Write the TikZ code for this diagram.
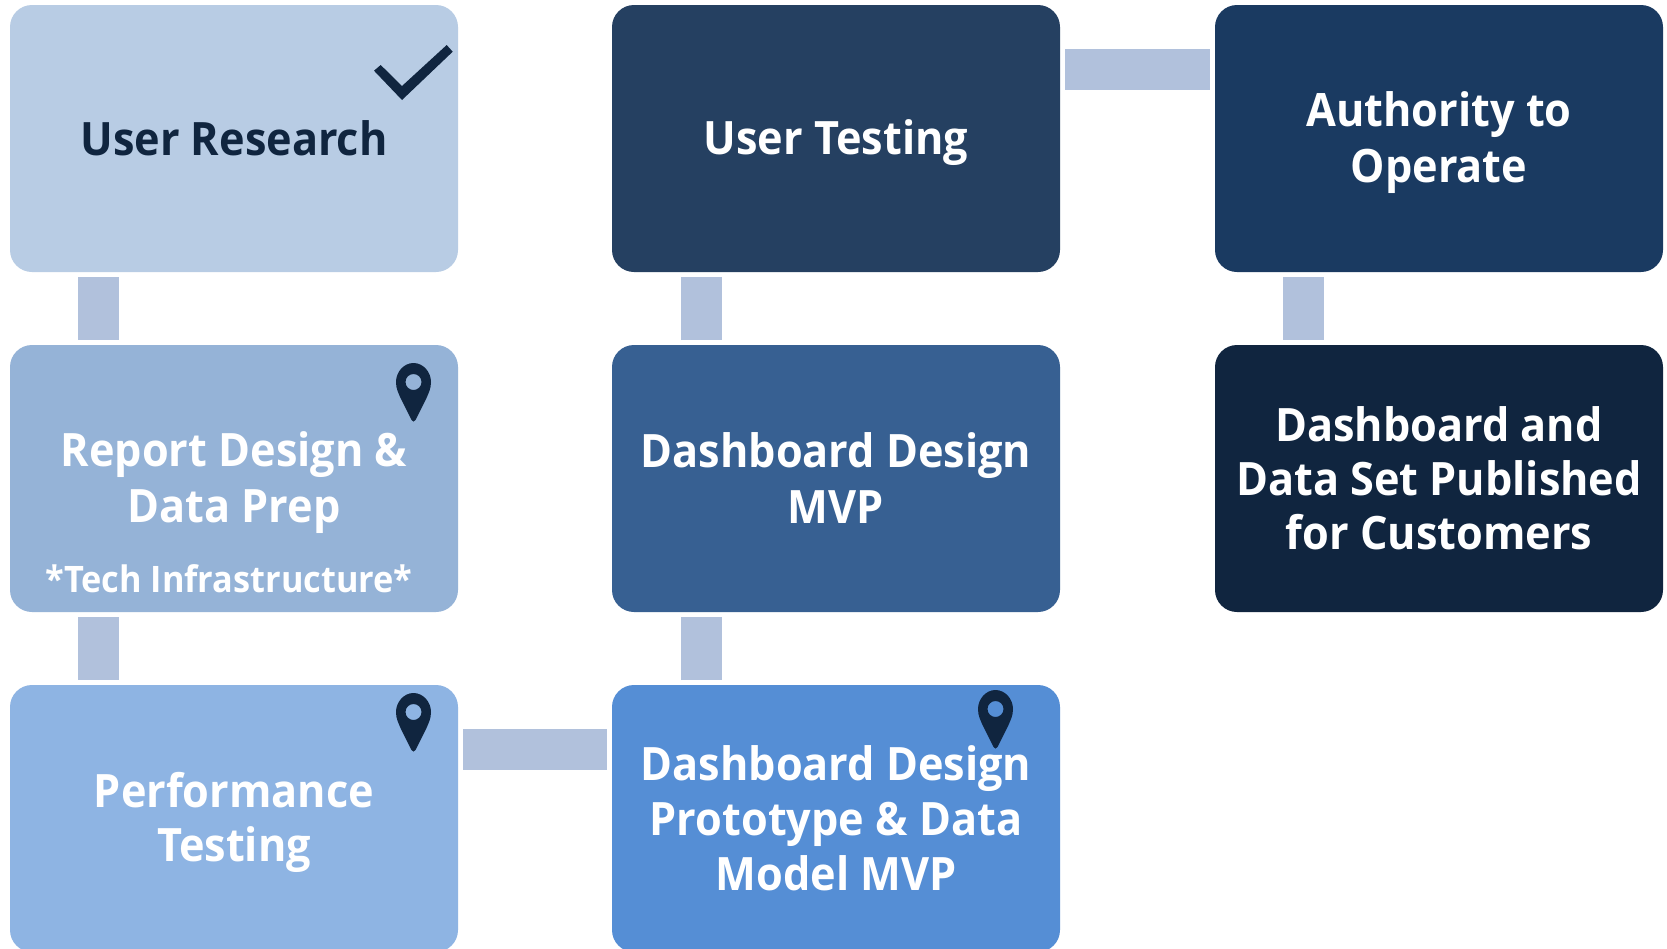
\documentclass[tikz,border=0pt]{standalone}
\usepackage{fontspec}
\setmainfont{Open Sans}[FakeStretch=0.94]
\definecolor{cA}{HTML}{B8CCE4}
\definecolor{cB}{HTML}{95B3D7}
\definecolor{cC}{HTML}{8EB4E3}
\definecolor{cD}{HTML}{558ED5}
\definecolor{cE}{HTML}{254061}
\definecolor{cF}{HTML}{376092}
\definecolor{cG}{HTML}{1A3A61}
\definecolor{cH}{HTML}{10253F}
\definecolor{cLink}{HTML}{B1C1DC}
\newcommand{\st}{\rule[-9pt]{0pt}{52pt}}
\tikzset{
  box/.style={rounded corners=22pt,minimum width=448pt,minimum height=267pt,inner sep=0pt,outer sep=0pt,
    align=center,text=white,font=\fontsize{46}{54}\selectfont\bfseries},
  linkv/.style={draw=cLink,line width=41pt},
  linkh/.style={draw=cLink,line width=41pt},
  iconink/.style={fill=cH,draw=none},
  pin/.pic={\path[iconink,even odd rule]
    (-17.5,0) .. controls (-17.5,-10) and (-9.7,-19) .. (0,-19)
    .. controls (9.7,-19) and (17.5,-10) .. (17.5,0)
    .. controls (17.5,7) and (15,11) .. (13,16)
    -- (2,38) .. controls (1,40) and (-1,40) .. (-2,38)
    -- (-13,16) .. controls (-15,11) and (-17.5,7) .. (-17.5,0) -- cycle
    (0,0) circle[radius=8pt];}
}
\begin{document}
\begin{tikzpicture}[x=1pt,y=-1pt]
\useasboundingbox[fill=white] (0,0) rectangle (1667,948);
\begin{scope}
\clip (0,0) rectangle (1667,948);
\node[box,fill=cA,text=cH] (ur) at (234,138.5) {\st User Research};
\node[box,fill=cB] (rd) at (234,478.5) {\st Report Design \&\\\st Data Prep};
\node[box,fill=cC] (pt) at (234,818.5) {\st Performance\\\st Testing};
\node[box,fill=cE] (ut) at (836,138.5) {\st User Testing};
\node[box,fill=cF] (dm) at (836,478.5) {\st Dashboard Design\\\st MVP};
\node[box,fill=cD] (dp) at (836,818.5) {\st Dashboard Design\\\st Prototype \& Data\\\st Model MVP};
\node[box,fill=cG] (ato) at (1439,138.5) {\st Authority to\\\st Operate};
\node[box,fill=cH] (pub) at (1439,478.5) {\st Dashboard and\\\st Data Set Published\\\st for Customers};
\end{scope}
\node[text=white,inner sep=0pt,font=\fontsize{36.5}{44}\selectfont\bfseries] (ti) at (229,579) {*Tech Infrastructure*};
% connectors
\draw[linkv] ([xshift=88.5pt,yshift=-5pt]ur.south west) -- ([xshift=88.5pt,yshift=5pt]rd.north west);
\draw[linkv] ([xshift=88.5pt,yshift=-5pt]rd.south west) -- ([xshift=88.5pt,yshift=5pt]pt.north west);
\draw[linkh] ([xshift=5pt,yshift=-64pt]pt.north east) -- ([xshift=-5pt,yshift=-64pt]dp.north west);
\draw[linkv] ([xshift=89.5pt,yshift=5pt]dp.north west) -- ([xshift=89.5pt,yshift=-5pt]dm.south west);
\draw[linkv] ([xshift=89.5pt,yshift=5pt]dm.north west) -- ([xshift=89.5pt,yshift=-5pt]ut.south west);
\draw[linkh] ([xshift=5pt,yshift=-64.5pt]ut.north east) -- ([xshift=-5pt,yshift=-64.5pt]ato.north west);
\draw[linkv] ([xshift=88.5pt,yshift=-5pt]ato.south west) -- ([xshift=88.5pt,yshift=5pt]pub.north west);
% check mark
\path[iconink] (446.7,45) -- (452.7,51.7) -- (402,100) -- (374,70.7) -- (380.7,65) -- (402,86) -- cycle;
\pic at (413.5,382) {pin};
\pic at (413.5,712) {pin};
\pic at (995.5,709) {pin};
\end{tikzpicture}
\end{document}
